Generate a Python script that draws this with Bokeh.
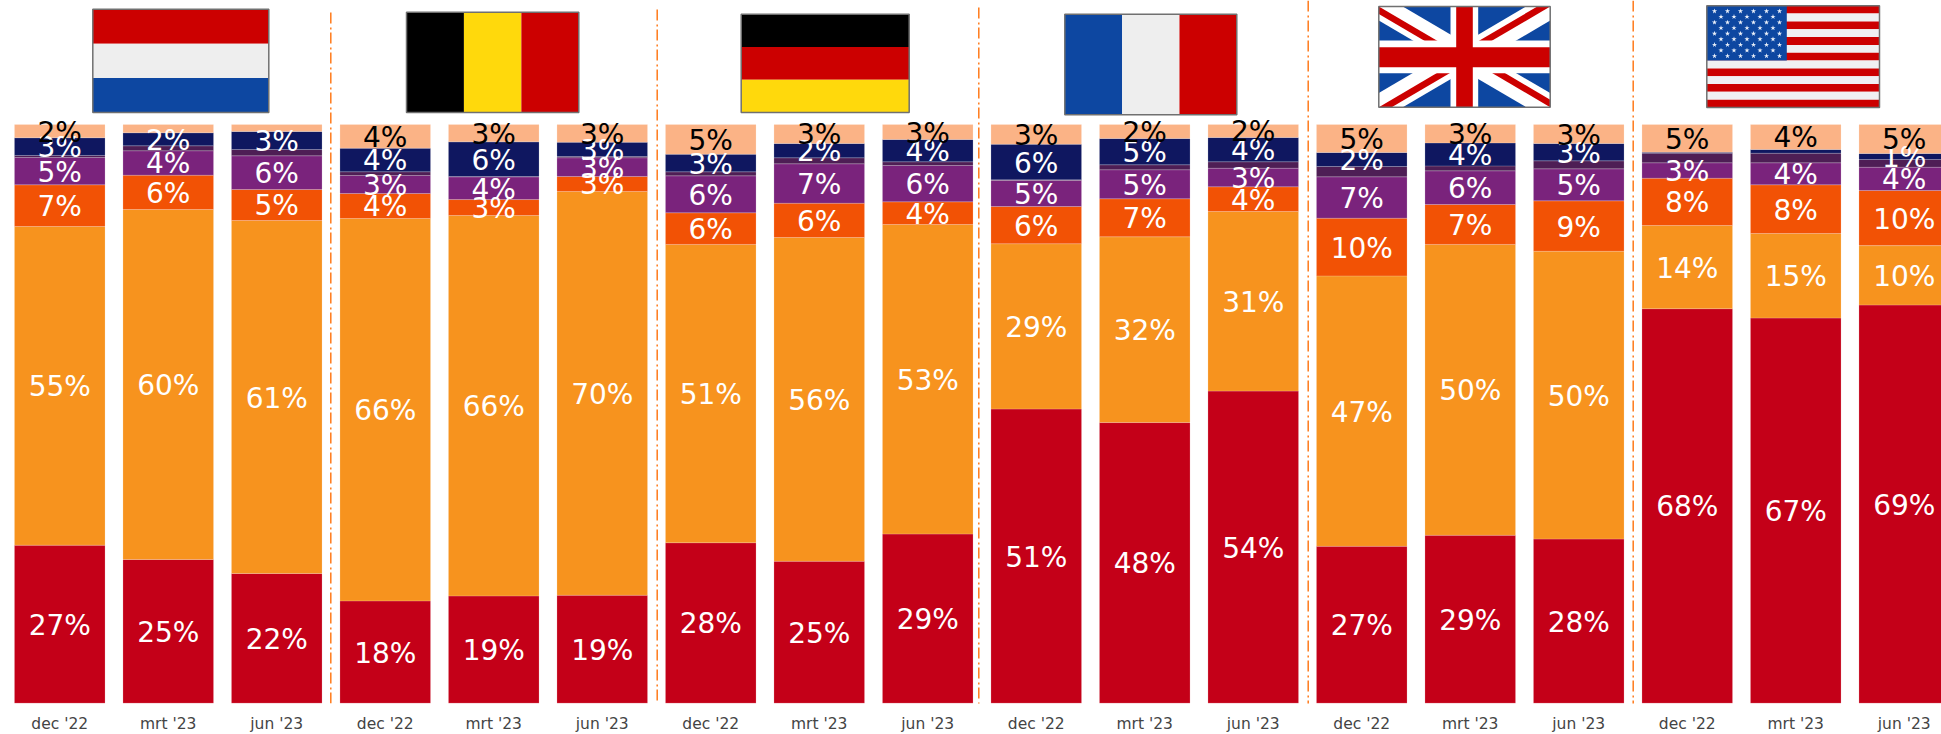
import numpy as np
from bokeh.core.properties import value
from bokeh.embed import file_html
from bokeh.models import ColumnDataSource, FixedTicker, Range1d
from bokeh.plotting import figure
from bokeh.resources import INLINE

months = ["dec '22", "mrt '23", "jun '23"] * 6

red = [27.30, 24.83, 22.41, 17.68, 18.54, 18.65, 27.73, 24.52, 29.24, 50.84, 48.49, 53.93, 27.10, 29.01, 28.37, 68.17, 66.56, 68.81]
amber = [55.07, 60.48, 61.00, 66.08, 65.73, 69.78, 51.55, 55.95, 53.48, 28.56, 32.11, 31.04, 46.74, 50.27, 49.73, 14.38, 14.60, 10.26]
orange = [7.21, 5.93, 5.36, 4.32, 2.76, 2.59, 5.46, 5.93, 3.92, 6.43, 6.57, 4.27, 9.97, 6.89, 8.71, 8.17, 8.42, 9.52]
purple = [4.72, 4.22, 5.82, 3.11, 3.92, 3.23, 6.39, 6.81, 6.27, 4.49, 5.01, 3.21, 7.15, 5.82, 5.53, 2.66, 3.80, 4.03]
plum = [0.35, 0.86, 1.09, 0.64, 0.05, 0.22, 0.69, 1.04, 0.64, 0.12, 0.86, 1.11, 1.78, 0.86, 1.38, 1.66, 1.66, 1.33]
navy = [3.06, 2.25, 3.11, 4.08, 6.00, 2.47, 3.04, 2.47, 3.85, 6.15, 4.54, 4.20, 2.42, 3.97, 2.99, 0.17, 0.64, 1.04]
peach = [2.30, 1.43, 1.21, 4.10, 2.99, 3.06, 5.13, 3.28, 2.59, 3.40, 2.42, 2.25, 4.84, 3.16, 3.28, 4.79, 4.32, 5.01]

red_lab = [27, 25, 22, 18, 19, 19, 28, 25, 29, 51, 48, 54, 27, 29, 28, 68, 67, 69]
amber_lab = [55, 60, 61, 66, 66, 70, 51, 56, 53, 29, 32, 31, 47, 50, 50, 14, 15, 10]
orange_lab = [7, 6, 5, 4, 3, 3, 6, 6, 4, 6, 7, 4, 10, 7, 9, 8, 8, 10]
purple_lab = [5, 4, 6, 3, 4, 3, 6, 7, 6, 5, 5, 3, 7, 6, 5, 3, 4, 4]
navy_lab = [3, 2, 3, 4, 6, 3, 3, 2, 4, 6, 5, 4, 2, 4, 3, None, None, 1]
peach_lab = [2, None, None, 4, 3, 3, 5, 3, 3, 3, 2, 2, 5, 3, 3, 5, 4, 5]

C_RED, C_AMBER, C_ORANGE = "#C40018", "#F7931E", "#F25205"
C_PURPLE, C_PLUM, C_NAVY, C_PEACH = "#7A237C", "#4E1E55", "#0F1760", "#FBB386"
FLAG_RED, FLAG_WHITE, FLAG_BLUE, FLAG_YELLOW = "#CC0000", "#EEEEEE", "#0D47A1", "#FFD90C"

W, H = 1941, 734
FRAME_H = 703
PX_PER_PCT = 5.787
STEP = 108.5
FIRST = 59.25

p = figure(width=W, height=H, frame_width=W, frame_height=FRAME_H,
           output_backend="svg", toolbar_location=None,
           x_range=Range1d(-FIRST / STEP, (W - FIRST) / STEP),
           y_range=Range1d(-0.3 / PX_PER_PCT, (FRAME_H - 0.3) / PX_PER_PCT),
           min_border=0, min_border_bottom=31, outline_line_color=None,
           background_fill_color="white", border_fill_color="white")
p.styles = {"position": "absolute", "left": "0", "top": "0"}
p.extra_x_ranges = {"px": Range1d(0, W)}
p.extra_y_ranges = {"px": Range1d(FRAME_H, 0)}
p.grid.visible = False
p.yaxis.visible = False

ax = p.xaxis[0]
ax.ticker = FixedTicker(ticks=list(range(18)))
ax.major_label_overrides = {i: m for i, m in enumerate(months)}
ax.axis_line_color = None
ax.major_tick_line_color = None
ax.minor_tick_line_color = None
ax.major_label_standoff = 5
ax.major_label_text_font = "DejaVu Sans"
ax.major_label_text_font_size = "15.5px"
ax.major_label_text_color = "#444444"

x = np.arange(18)
series = [(red, C_RED, red_lab, "white"), (amber, C_AMBER, amber_lab, "white"),
          (orange, C_ORANGE, orange_lab, "white"), (purple, C_PURPLE, purple_lab, "white"),
          (plum, C_PLUM, [None] * 18, "white"), (navy, C_NAVY, navy_lab, "white"),
          (peach, C_PEACH, peach_lab, "black")]

bottom = np.zeros(18)
labels = []
for vals, col, labs, tcol in series:
    vals = np.array(vals)
    top = bottom + vals
    p.vbar(x=x, bottom=bottom, top=top, width=90.6 / STEP, fill_color=col,
           line_color="white", line_alpha=0.18, line_width=1)
    for i, lab in enumerate(labs):
        if lab is not None:
            labels.append((i, (bottom[i] + top[i]) / 2, f"{lab}%", tcol))
    bottom = top

# labels drawn after all bars, lowest series first, as in the reference
src = ColumnDataSource(dict(x=[l[0] for l in labels], y=[l[1] for l in labels],
                            t=[l[2] for l in labels], c=[l[3] for l in labels]))
p.text(x="x", y="y", text="t", text_color="c", source=src, text_align="center",
       text_baseline="middle", text_font=value("DejaVu Sans"), text_font_size="28px", y_offset=1)

PX = dict(x_range_name="px", y_range_name="px")

# group dividers
for dx, dy in [(330.3, 12), (656.7, 9), (978.3, 7), (1307.7, 0), (1632.7, 0)]:
    p.line([dx, dx], [dy, 734], line_color="#FF7A1A", line_width=1.5, line_dash="11 4 2 3", **PX)


def rect(x0, y0, x1, y1, col):
    p.quad(left=x0, right=x1, top=y0, bottom=y1, fill_color=col, line_color=None, **PX)


def border(x0, y0, x1, y1):
    p.quad(left=x0, right=x1, top=y0, bottom=y1, fill_color=None, line_color="#707070",
           line_width=1.5, **PX)


def hstripes(box, cols):
    x0, y0, x1, y1 = box
    h = (y1 - y0) / len(cols)
    for i, c in enumerate(cols):
        rect(x0, y0 + i * h, x1, y0 + (i + 1) * h, c)
    border(*box)


def vstripes(box, cols):
    x0, y0, x1, y1 = box
    w = (x1 - x0) / len(cols)
    for i, c in enumerate(cols):
        rect(x0 + i * w, y0, x0 + (i + 1) * w, y1, c)
    border(*box)


hstripes((92.3, 8.7, 268.3, 112), [FLAG_RED, FLAG_WHITE, FLAG_BLUE])
vstripes((406, 11.7, 578.3, 112), ["#000000", FLAG_YELLOW, FLAG_RED])
hstripes((740.7, 13.7, 908.7, 112), ["#000000", FLAG_RED, FLAG_YELLOW])
vstripes((1064.3, 13.7, 1236.3, 114.3), [FLAG_BLUE, FLAG_WHITE, FLAG_RED])

# United Kingdom
gx0, gy0, gx1, gy1 = 1378.3, 6, 1549.7, 106.7
gxc, gyc = (gx0 + gx1) / 2, (gy0 + gy1) / 2
rect(gx0, gy0, gx1, gy1, FLAG_BLUE)
w, r = 0.28, 0.15
white_poly = [(0, 0), (w, 0), (1, 1 - w), (1, 1), (1 - w, 1), (0, w)]
red_low = [(0, 0), (1, 1), (1 - r, 1), (0, r)]
red_up = [(0, 0), (r, 0), (1, 1 - r), (1, 1)]
for cx, cy, rp in [(gx0, gy0, red_low), (gx1, gy0, red_up), (gx0, gy1, red_up), (gx1, gy1, red_low)]:
    for poly, col in [(white_poly, "white"), (rp, FLAG_RED)]:
        xs = [cx + u * (gxc - cx) for u, _ in poly]
        ys = [cy + v * (gyc - cy) for _, v in poly]
        p.patch(xs, ys, fill_color=col, line_color=None, **PX)
rect(1450, gy0, 1477.7, gy1, "white")
rect(gx0, 40, gx1, 72.7, "white")
rect(1455.7, gy0, 1472.3, gy1, FLAG_RED)
rect(gx0, 46.7, gx1, 66.7, FLAG_RED)
border(gx0, gy0, gx1, gy1)

# United States
ux0, uy0, ux1, uy1 = 1706.3, 5.3, 1879, 107
sh = (uy1 - uy0) / 13
for i in range(13):
    rect(ux0, uy0 + i * sh, ux1, uy0 + (i + 1) * sh, FLAG_RED if i % 2 == 0 else "#F0F0F2")
rect(ux0, uy0, 1786.3, uy0 + 7 * sh, FLAG_BLUE)
sx, sy = [], []
for row in range(9):
    ny = 10.7 + 5.6 * row
    if row % 2 == 0:
        cols = [1714 + 13 * k for k in range(6)]
    else:
        cols = [1720.5 + 13 * k for k in range(5)]
    sx += cols
    sy += [ny] * len(cols)
p.scatter(sx, sy, marker="star", size=5.5, fill_color="#E8EEF8", line_color=None, **PX)
border(ux0, uy0, ux1, uy1)

open("out.html", "w").write(file_html(p, INLINE))
